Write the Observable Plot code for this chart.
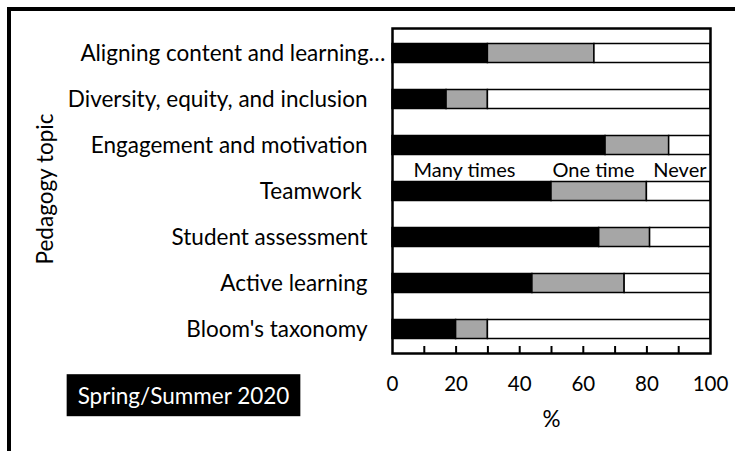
<!DOCTYPE html>
<html>
<head>
<meta charset="utf-8">
<script src="https://cdn.jsdelivr.net/npm/d3@7"></script>
<script src="https://cdn.jsdelivr.net/npm/@observablehq/plot@0.6"></script>
<style>
  html, body { margin: 0; padding: 0; background: white; overflow: hidden; }
  #wrap { position: relative; width: 735px; height: 451px; }
  #border { position: absolute; left: 7px; top: 7px; width: 900px; height: 600px;
            border-left: 4px solid black; border-top: 4px solid black; pointer-events: none; }
</style>
</head>
<body>
<div id="wrap"><div id="border"></div></div>
<script>
const topics = [
  "Aligning content and learning…",
  "Diversity, equity, and inclusion",
  "Engagement and motivation",
  "Teamwork\u00a0",
  "Student assessment",
  "Active learning",
  "Bloom's taxonomy"
];
const responses = ["Many times", "One time", "Never"];
const manyTimes = [30, 17, 67, 50, 65, 44, 20];
const oneTime   = [33.5, 13, 20, 30, 16, 29, 10];
const never     = [36.5, 70, 13, 20, 19, 27, 70];
const xTickLabels = [0, 20, 40, 60, 80, 100];
const xMinorTicks = [10, 20, 30, 40, 50, 60, 70, 80, 90];
const yTitle = "Pedagogy topic";
const xTitle = "%";
const periodLabel = "Spring/Summer 2020";

const series = [manyTimes, oneTime, never];
const table = topics.flatMap((t, i) =>
  responses.map((r, j) => ({topic: t, response: r, value: series[j][i]})));

const W = 735, H = 451, mT = 28, mB = 98, mL = 392, mR = 25;
const frameH = H - mT - mB;
const FS = 22.5;
const LFS = 20;

const plot = Plot.plot({
  width: W, height: H,
  marginTop: mT, marginBottom: mB, marginLeft: mL, marginRight: mR,
  style: {fontFamily: "Lato", fontSize: FS + "px", color: "black", background: "white", overflow: "visible"},
  x: {domain: [0, 100], axis: null},
  y: {domain: topics, padding: 0, axis: null},
  color: {domain: responses, range: ["black", "#a6a6a6", "white"]},
  marks: [
    Plot.barX(table, {y: "topic", x: "value", fill: "response", stroke: "black", strokeWidth: 1.5,
      insetTop: 13.5, insetBottom: 13.5}),
    Plot.frame({stroke: "black", strokeWidth: 2.5}),
    Plot.ruleX(xMinorTicks, {x: d => d, insetTop: frameH - 7, stroke: "black", strokeWidth: 2}),
    Plot.axisX({ticks: xTickLabels, tickSize: 0, tickPadding: 23, label: null, fontSize: 20.5}),
    Plot.text(topics.slice(1), {y: d => d, frameAnchor: "left", dx: -25, textAnchor: "end", fontSize: FS}),
    Plot.text(topics.slice(0, 1), {y: d => d, frameAnchor: "left", dx: -7, textAnchor: "end", fontSize: FS}),
    Plot.text([responses[0]], {y: () => topics[3], frameAnchor: "left", dx: 72, dy: -21, textAnchor: "middle", fontSize: LFS}),
    Plot.text([responses[1]], {y: () => topics[3], frameAnchor: "left", dx: 201, dy: -21, textAnchor: "middle", fontSize: LFS}),
    Plot.text([responses[2]], {y: () => topics[3], frameAnchor: "left", dx: 314, dy: -21, textAnchor: "end", fontSize: LFS}),
    Plot.text([xTitle], {frameAnchor: "bottom", dy: 66, lineAnchor: "middle", fontSize: FS}),
    Plot.text([yTitle], {frameAnchor: "left", dx: -347, dy: -2, rotate: -90, textAnchor: "middle", lineAnchor: "middle", fontSize: FS}),
    Plot.text([periodLabel], {frameAnchor: "bottom-left", dx: -209, dy: 43, textAnchor: "middle", lineAnchor: "middle", fill: "white", fontSize: FS})
  ]
});

const wrap = document.getElementById("wrap");
wrap.insertBefore(plot, wrap.firstChild);

// black label box behind the period label
d3.select(plot).selectAll("text").each(function() {
  if (this.textContent === periodLabel) {
    const bb = this.getBBox();
    const cy = bb.y + bb.height / 2;
    const rect = document.createElementNS("http://www.w3.org/2000/svg", "rect");
    rect.setAttribute("x", bb.x - 11);
    rect.setAttribute("width", bb.width + 22);
    rect.setAttribute("y", cy - 21);
    rect.setAttribute("height", 42);
    rect.setAttribute("fill", "black");
    const tr = this.getAttribute("transform");
    if (tr) rect.setAttribute("transform", tr);
    this.parentNode.insertBefore(rect, this);
  }
});
</script>
</body>
</html>
